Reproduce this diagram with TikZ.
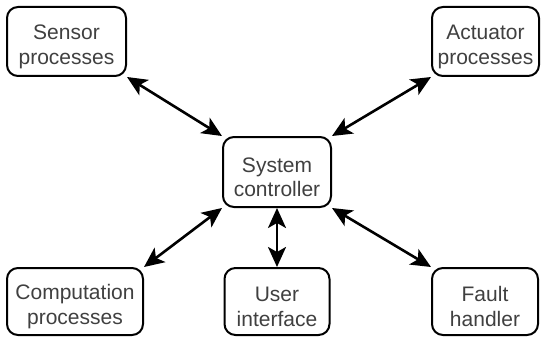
\documentclass[tikz,border=0pt]{standalone}
\usepackage{fontspec}
\setmainfont{Liberation Sans}
\usetikzlibrary{arrows.meta}
\newcommand{\topstrut}{\rule{0pt}{25pt}}
\begin{document}
\begin{tikzpicture}[x=1pt,y=-1pt,
  procbox/.style={draw=black, line width=2pt, rounded corners=11pt, align=center,
    font=\fontsize{21}{24.5}\selectfont, text=black!75, inner sep=0pt},
  link/.style={line width=2.6pt, {Stealth[length=20pt,width=18pt,inset=5pt]}-{Stealth[length=20pt,width=18pt,inset=5pt]}}]
\fill[white] (0,0) rectangle (541,337);
\useasboundingbox (0,0) rectangle (541,337);
\node[procbox, minimum width=119pt, minimum height=69pt] (sensor) at (66.5,41.5) {\topstrut Sensor\\processes};
\node[procbox, minimum width=107pt, minimum height=69pt] (act) at (485.5,41.5) {\topstrut Actuator\\processes};
\node[procbox, minimum width=108pt, minimum height=70pt] (ctrl) at (277,172) {\topstrut System\\controller};
\node[procbox, minimum width=136pt, minimum height=67pt] (comp) at (75,301.5) {\topstrut Computation\\processes};
\node[procbox, minimum width=105pt, minimum height=67pt] (ui) at (277,301.5) {\topstrut User\\interface};
\node[procbox, minimum width=106pt, minimum height=67pt] (fault) at (485,301.5) {\topstrut Fault\\handler};
\draw[link] (sensor.south east) -- (ctrl.north west);
\draw[link] (act.south west) -- (ctrl.north east);
\draw[link] (ctrl.south west) -- (comp.north east);
\draw[link] (ctrl.south) -- (ui.north);
\draw[link] (ctrl.south east) -- (fault.north west);
\end{tikzpicture}
\end{document}
